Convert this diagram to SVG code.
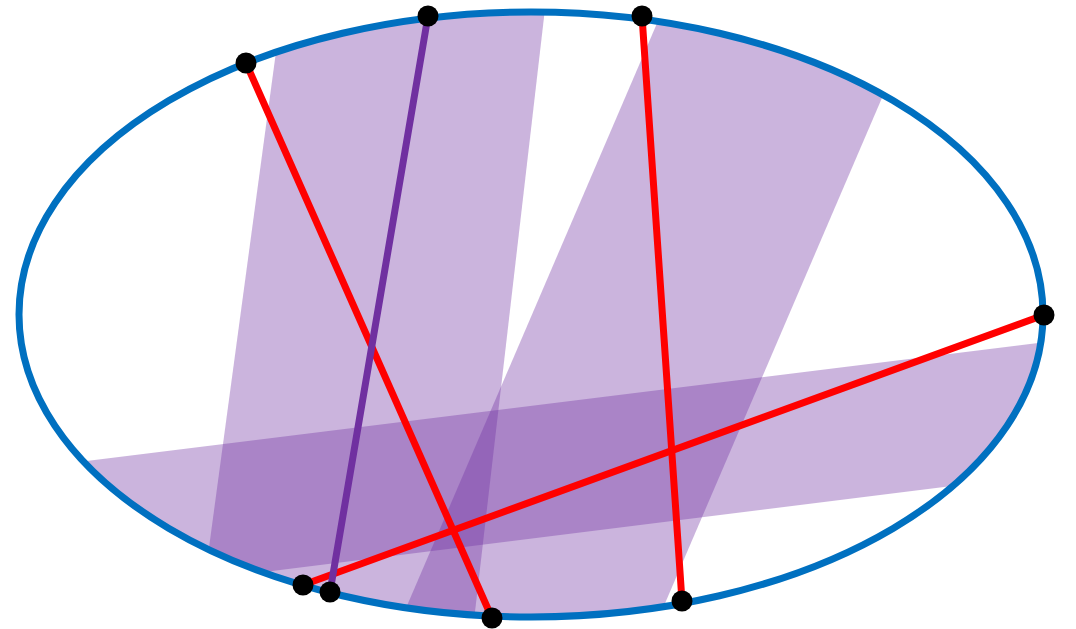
<svg xmlns="http://www.w3.org/2000/svg" width="1076" height="629" viewBox="0 0 1076 629">
<style>
.band{fill:#7030A0;fill-opacity:0.36;stroke:none}
.red{stroke:#FF0000;stroke-width:7;stroke-linecap:round;fill:none}
.pur{stroke:#7030A0;stroke-width:7;stroke-linecap:round;fill:none}
.dot{fill:#000}
</style>
<defs>
<clipPath id="clipE"><ellipse cx="531" cy="314.5" rx="513" ry="303.5"/></clipPath>
</defs>
<rect width="1076" height="629" fill="#fff"/>
<g id="bands" clip-path="url(#clipE)">
<polygon class="band" points="283,0 546,0 473,629 198,629"/>
<polygon class="band" points="667,0 924,0 654,629 397,629"/>
<polygon class="band" points="0,471.7 1076,338.3 1076,470.5 0,604.9"/>
</g>
<ellipse id="ellipse" cx="531" cy="314.5" rx="512" ry="302.5" fill="none" stroke="#0070C0" stroke-width="7"/>
<g id="chords">
<line class="red" x1="246" y1="63" x2="492" y2="618"/>
<line class="red" x1="642" y1="16" x2="682" y2="601"/>
<line class="red" x1="1044" y1="315" x2="303" y2="585"/>
<line class="pur" x1="428" y1="16" x2="330" y2="592"/>
</g>
<g id="points">
<circle class="dot" cx="246" cy="63" r="10.5"/>
<circle class="dot" cx="428" cy="16" r="10.5"/>
<circle class="dot" cx="642" cy="16" r="10.5"/>
<circle class="dot" cx="1044" cy="315" r="10.5"/>
<circle class="dot" cx="303" cy="585" r="10.5"/>
<circle class="dot" cx="330" cy="592" r="10.5"/>
<circle class="dot" cx="492" cy="618" r="10.5"/>
<circle class="dot" cx="682" cy="601" r="10.5"/>
</g>
</svg>
